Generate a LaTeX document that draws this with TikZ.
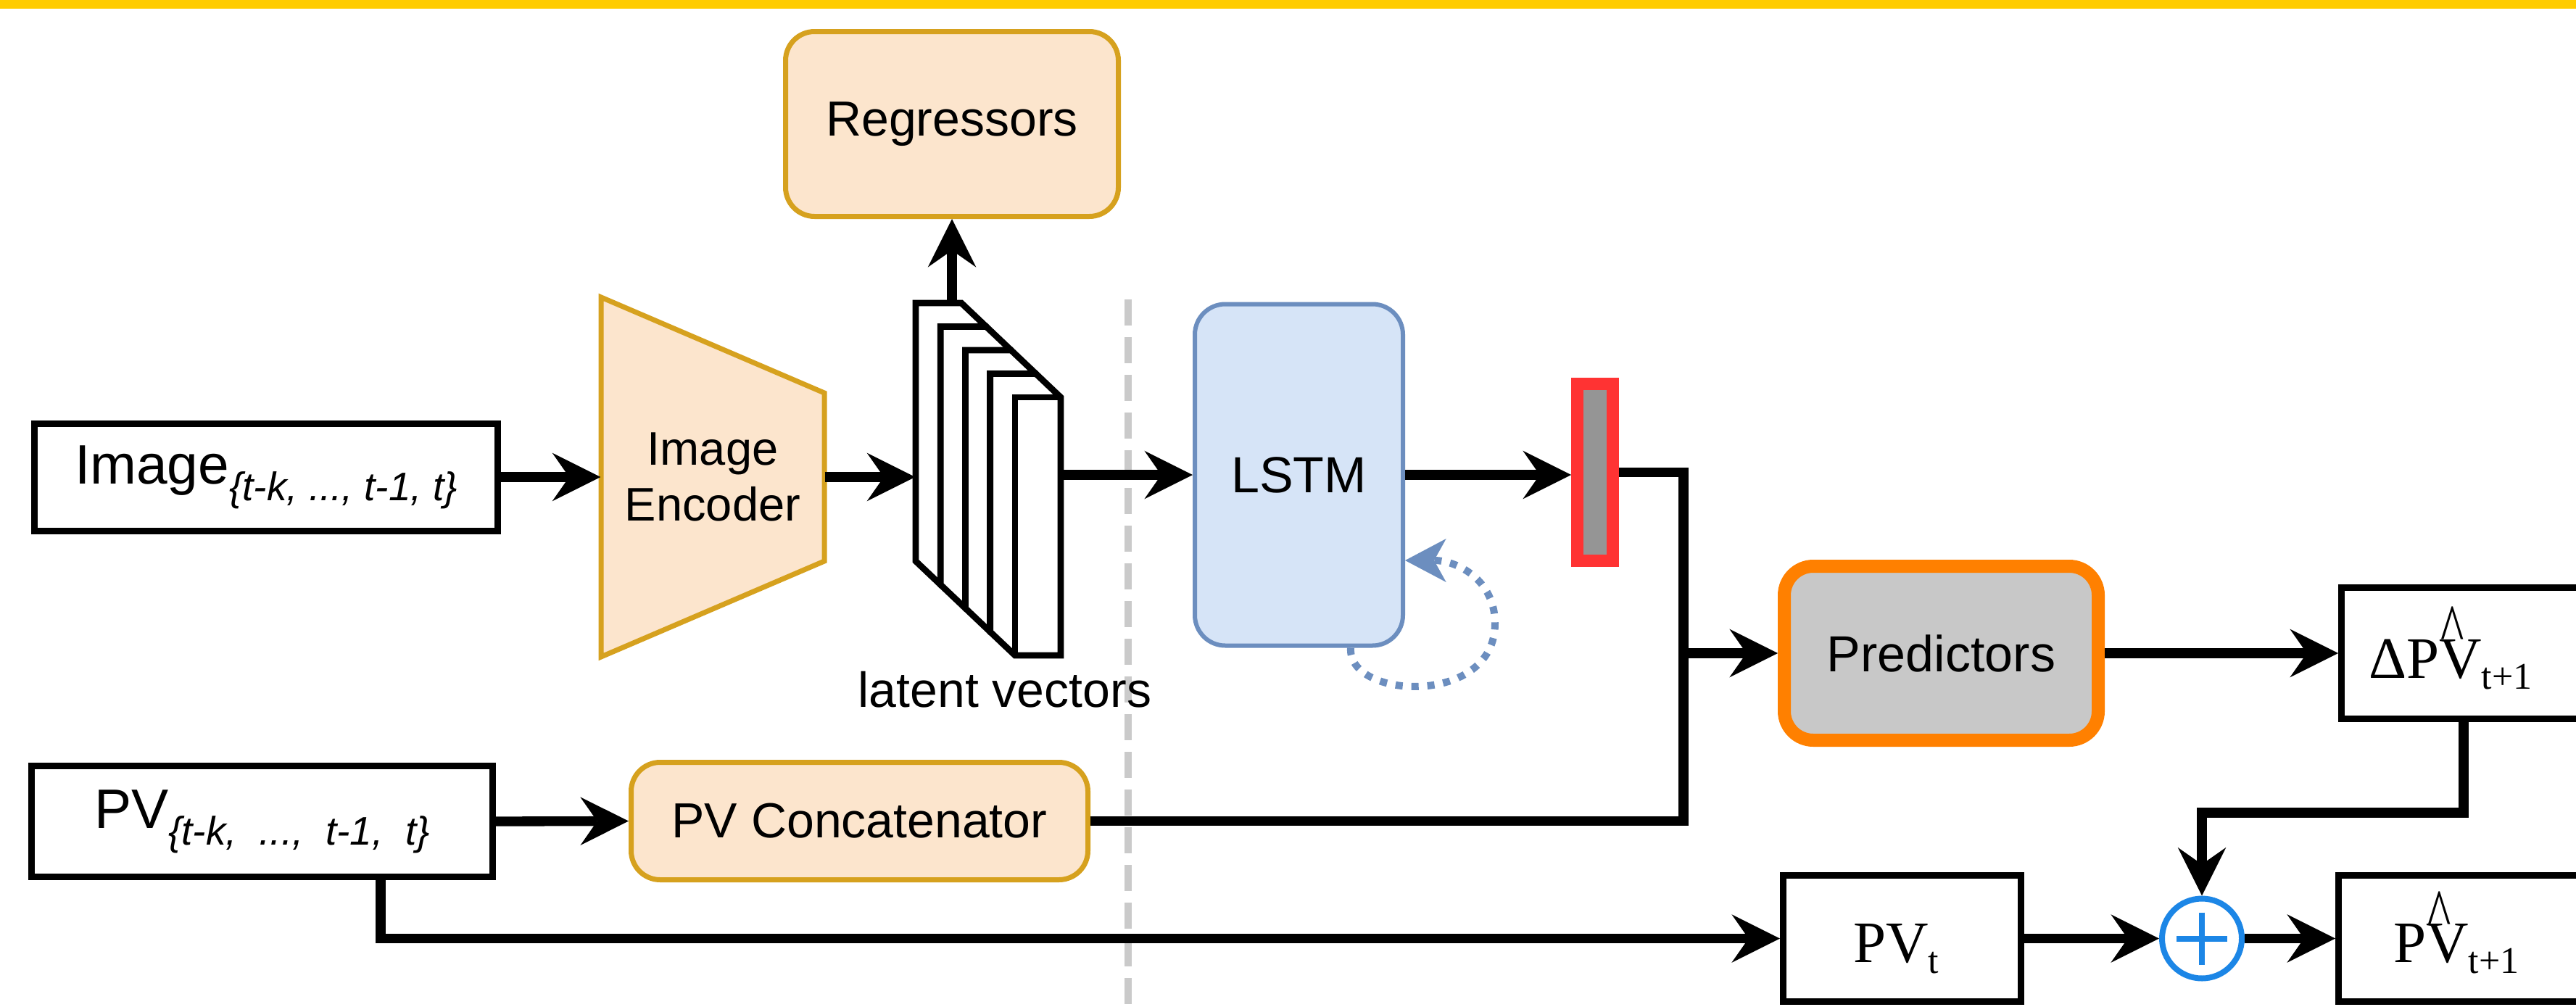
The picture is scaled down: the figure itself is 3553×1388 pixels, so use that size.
\documentclass[tikz,border=0pt]{standalone}
\usepackage{fontspec}
\usepackage{graphicx}
\setmainfont{Liberation Sans}
\newfontfamily\seriffam{Liberation Serif}
\usetikzlibrary{arrows.meta,calc}

\definecolor{peach}{HTML}{FCE5CD}
\definecolor{gold}{HTML}{D6A11E}
\definecolor{lstmfill}{HTML}{D6E4F7}
\definecolor{lstmdraw}{HTML}{6C8EBF}
\definecolor{predorange}{HTML}{FF8000}
\definecolor{predfill}{HTML}{C8C8C8}
\definecolor{barred}{HTML}{FF3333}
\definecolor{bargray}{HTML}{959595}
\definecolor{plusblue}{HTML}{1C86E6}
\definecolor{dashgray}{HTML}{CACACA}
\definecolor{topyellow}{HTML}{FFCC00}

\newcommand\hatV{\leavevmode\rlap{\kern0.02em\raisebox{0.42em}{\scalebox{0.85}[1.2]{\textasciicircum}}}V}
\newcommand\sersub[1]{\raisebox{-4.5pt}{\fontsize{15.6}{18}\selectfont #1}}
\newcommand\sanssub[1]{\raisebox{-7pt}{\fontsize{16.5}{19}\selectfont\itshape #1}}

\tikzset{
  bx/.style={draw=black, line width=2.7pt, fill=white, inner sep=0pt},
  peachbox/.style={draw=gold, fill=peach, line width=2.1pt, rounded corners=12pt, inner sep=0pt},
  conn/.style={line width=4pt, -{Stealth[length=20pt,width=20pt,inset=7pt,line width=0pt]}},
  plainline/.style={line width=4pt, line join=miter},
  sanslbl/.style={font=\fontsize{20.4}{24}\selectfont},
  serlbl/.style={font=\seriffam\fontsize{24.3}{28}\selectfont, inner sep=0pt},
}

\begin{document}
\begin{tikzpicture}[x=0.3pt,y=-0.3pt]
\useasboundingbox (0,0) rectangle (3553,1388);
\clip (0,0) rectangle (3553,1388);
\fill[white] (0,0) rectangle (3553,1388);
\fill[topyellow] (0,0) rectangle (3553,12);

% dashed separator
\draw[dashgray, line width=3pt, dash pattern=on 10.8pt off 4.8pt] (1556,413) -- (1556,1400);

% input boxes
\node[bx, minimum width=639*0.3pt, minimum height=148*0.3pt, font=\fontsize{23}{27}\selectfont] (img) at (367,658)
  {Image\sanssub{\{t-k, ..., t-1, t\}}};
\node[bx, minimum width=636*0.3pt, minimum height=153*0.3pt, font=\fontsize{23}{27}\selectfont] (pv) at (361.5,1133)
  {PV\sanssub{\{t-k,\ \ ...,\ \ t-1,\ \ t\}}};

% image encoder (trapezoid)
\draw[gold, fill=peach, line width=2.1pt, line join=miter] (829,410) -- (1137,542) -- (1137,774) -- (829,906) -- cycle;
\node[inner sep=0pt, minimum width=308*0.3pt, minimum height=496*0.3pt, align=center,
      font=\fontsize{19.5}{23.1}\selectfont] (enc) at (983,658) {Image\\Encoder};

% latent vectors stack
\foreach \i in {0,...,3} {
  \pgfmathsetmacro\slabx{1263+34.25*\i}
  \pgfmathsetmacro\slaby{418+32.5*\i}
  \draw[line width=2.6pt, fill=white, line join=miter]
    (\slabx,\slaby) -- ++(63,0) -- ++(34.25,32.5) -- ++(0,356) -- ++(-63,0) -- ++(-34.25,-32.5) -- cycle;
  \draw[line width=2.6pt, line join=miter]
    (\slabx+34.25,\slaby+388.5) -- ++(0,-356) -- ++(63,0);
}
\node[inner sep=0pt, minimum width=200*0.3pt, minimum height=486*0.3pt] (lat) at (1363,661) {};
\node[sanslbl, anchor=base] (latlbl) at (1386,975) {latent vectors};

% regressors
\node[peachbox, sanslbl, minimum width=459*0.3pt, minimum height=255*0.3pt] (reg) at (1313,171) {Regressors};

% LSTM
\node[draw=lstmdraw, fill=lstmfill, line width=1.8pt, rounded corners=12.6pt, inner sep=0pt,
      minimum width=287*0.3pt, minimum height=471*0.3pt, font=\fontsize{21}{25}\selectfont] (lstm) at (1791.5,655) {LSTM};

% hidden state bar
\node[draw=barred, fill=bargray, line width=5.1pt, inner sep=0pt,
      minimum width=49*0.3pt, minimum height=244*0.3pt] (bar) at (2200,651.5) {};

% predictors
\node[draw=predorange, fill=predfill, line width=5.4pt, rounded corners=12pt, inner sep=0pt,
      minimum width=433*0.3pt, minimum height=240*0.3pt, font=\fontsize{21}{25}\selectfont] (pred) at (2677.5,901) {Predictors};

% PV concatenator
\node[peachbox, sanslbl, minimum width=630*0.3pt, minimum height=162*0.3pt] (cat) at (1185.5,1132.5) {PV Concatenator};

% output boxes
\node[bx, minimum width=356*0.3pt, minimum height=181*0.3pt] (dpv) at (3407.5,901) {};
\node[serlbl, anchor=base] (dpvt) at (3380,935) {ΔP\hatV\sersub{t+1}};

\node[bx, minimum width=328*0.3pt, minimum height=174*0.3pt] (pvt) at (2623.5,1294.5) {};
\node[serlbl, anchor=base] (pvtt) at (2615,1327) {PV\sersub{t}};

\node[bx, minimum width=360*0.3pt, minimum height=174*0.3pt] (phat) at (3405.5,1294.5) {};
\node[serlbl, anchor=base] (phatt) at (3388,1327) {P\hatV\sersub{t+1}};

% plus
\node[circle, draw=plusblue, fill=white, line width=2.4pt, inner sep=0pt, minimum size=110*0.3pt] (plus) at (3037,1294.5) {};
\draw[plusblue, line width=2.4pt] (plus.center) +(-35,0) -- +(35,0);
\draw[plusblue, line width=2.4pt] (plus.center) +(0,-36) -- +(0,36);

% connectors
\draw[conn] (img.east) -- (img.east -| enc.west);
\draw[conn] (enc.east) -- (enc.east -| lat.west);
\draw[conn] (lat.east |- lstm.west) -- (lstm.west);
\draw[conn] (reg.south |- lat.north) -- (reg.south);
\draw[conn] (lstm.east) -- (lstm.east -| bar.west);
\coordinate (jn) at (2322,1133);
\draw[plainline] (cat.east) -- (cat.east -| jn) -- (bar.east -| jn) -- (bar.east);
\draw[conn] (pred.west -| jn) -- (pred.west);
\draw[conn] (pred.east) -- (pred.east -| dpv.west);
\draw[conn] (pv.east) -- (cat.west);
\coordinate (pvd) at (525,1294.5);
\draw[conn, line join=miter] (pvd |- pv.south) -- (pvd) -- (pvd -| pvt.west);
\draw[conn] (pvt.east) -- (pvt.east -| plus.west);
\draw[conn] (plus.east) -- (plus.east -| phat.west);
\coordinate (dj) at (3398,1121);
\draw[conn, line join=miter] (dj |- dpv.south) -- (dj) -| (plus.north);

% recurrent loop
\coordinate (ls) at (1863,0);
\coordinate (le) at (0,773);
\draw[lstmdraw, line width=3pt, dash pattern=on 3pt off 3.6pt,
      -{Stealth[length=17pt,width=18pt,inset=5pt,line width=0pt]}]
  (lstm.south -| ls) .. controls (1858,965) and (2062,975) .. (2062,860)
  .. controls (2062,800) and (2010,773) .. (lstm.east |- le);
\end{tikzpicture}
\end{document}
